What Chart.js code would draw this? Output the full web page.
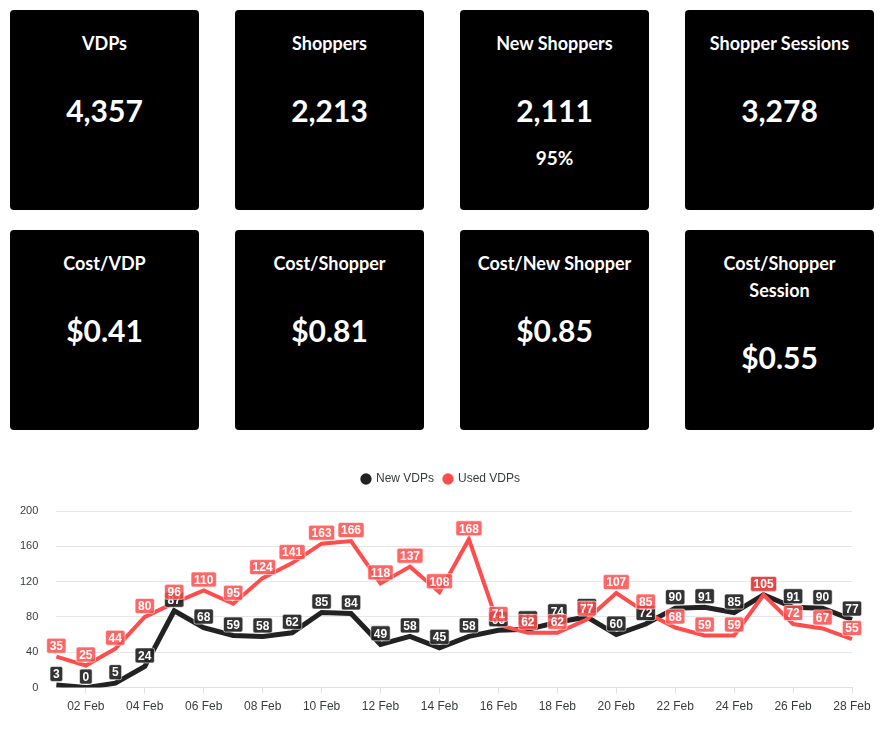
<!DOCTYPE html>
<html>
<head>
<meta charset="utf-8">
<script src="https://cdn.jsdelivr.net/npm/chart.js@4.4.1/dist/chart.umd.min.js"></script>
<style>
	html, body { margin: 0; padding: 0; background: #fff; }
	body { width: 886px; height: 730px; position: relative; overflow: hidden; }
	.cards {
		position: absolute; left: 10px; top: 10px;
		display: grid;
		grid-template-columns: repeat(4, 189px);
		grid-template-rows: 200px 200px;
		column-gap: 36px; row-gap: 20px;
	}
	.card {
		background: #000; color: #fff; border-radius: 4px;
		font-family: 'Lato', 'Noto Sans', sans-serif; font-weight: 700;
		text-align: center; padding: 20px 8px 0; box-sizing: border-box;
	}
	.card .title { font-size: 18px; line-height: 27px; }
	.card .value { font-size: 30px; line-height: 40px; margin-top: 33px; }
	.card .sub { font-size: 19px; line-height: 24px; margin-top: 16px; }
	.chart-box { position: absolute; left: 0; top: 463px; width: 886px; height: 267px; }
</style>
</head>
<body>
<div class="cards" id="cards"></div>
<div class="chart-box"><canvas id="vdpChart"></canvas></div>
<script>
	'use strict';

	// summary cards
	const cardTitles = ['VDPs', 'Shoppers', 'New Shoppers', 'Shopper Sessions',
		'Cost/VDP', 'Cost/Shopper', 'Cost/New Shopper', 'Cost/Shopper Session'];
	const cardValues = ['4,357', '2,213', '2,111', '3,278', '$0.41', '$0.81', '$0.85', '$0.55'];
	const cardSubs = ['', '', '95%', '', '', '', '', ''];

	// daily VDPs, February
	const days = ['01 Feb', '02 Feb', '03 Feb', '04 Feb', '05 Feb', '06 Feb', '07 Feb',
		'08 Feb', '09 Feb', '10 Feb', '11 Feb', '12 Feb', '13 Feb', '14 Feb',
		'15 Feb', '16 Feb', '17 Feb', '18 Feb', '19 Feb', '20 Feb', '21 Feb',
		'22 Feb', '23 Feb', '24 Feb', '25 Feb', '26 Feb', '27 Feb', '28 Feb'];
	const newVdps = [3, 0, 5, 24, 87, 68, 59, 58, 62, 85, 84, 49, 58, 45,
		58, 65, 66, 74, 80, 60, 72, 90, 91, 85, 105, 91, 90, 77];
	const usedVdps = [35, 25, 44, 80, 96, 110, 95, 124, 141, 163, 166, 118, 137, 108,
		168, 71, 62, 62, 77, 107, 85, 68, 59, 59, 105, 72, 67, 55];
	const yTicks = [0, 40, 80, 120, 160, 200];

	const cards = document.getElementById('cards');
	cardTitles.forEach(function(title, i) {
		const card = document.createElement('div');
		card.className = 'card';
		let html = '<div class="title">' + title + '</div><div class="value">' + cardValues[i] + '</div>';
		if (cardSubs[i] !== '') {
			html += '<div class="sub">' + cardSubs[i] + '</div>';
		}
		card.innerHTML = html;
		cards.appendChild(card);
	});

	Chart.defaults.font.family = "Arial, 'Liberation Sans', sans-serif";
	Chart.defaults.color = '#373d3f';

	const colors = ['#222222', '#ff4c4c'];
	const labelFills = ['rgba(34,34,34,0.92)', 'rgba(255,76,76,0.85)'];

	// boxed value labels above each point
	const valueLabels = {
		id: 'valueLabels',
		afterDatasetsDraw(chart) {
			const c = chart.ctx;
			c.save();
			c.font = 'bold 12px Arial, "Liberation Sans", sans-serif';
			c.textAlign = 'center';
			c.textBaseline = 'middle';
			chart.data.datasets.forEach(function(ds, di) {
				const meta = chart.getDatasetMeta(di);
				meta.data.forEach(function(pt, i) {
					const text = String(ds.data[i]);
					const w = c.measureText(text).width + 6;
					const h = 15;
					const cx = pt.x;
					const cy = pt.y - 11;
					c.beginPath();
					c.roundRect(cx - w / 2, cy - h / 2, w, h, 2);
					c.fillStyle = labelFills[di];
					c.fill();
					c.lineWidth = 1;
					c.strokeStyle = 'rgba(255,255,255,0.6)';
					c.stroke();
					c.fillStyle = '#fff';
					c.fillText(text, cx, cy + 1);
				});
			});
			c.restore();
		}
	};

	// extra room under the legend, and nudge it a bit to the right
	const legendGap = {
		id: 'legendGap',
		beforeInit(chart) {
			const fit = chart.legend.fit;
			chart.legend.fit = function() {
				fit.bind(chart.legend)();
				this.height += 16;
			};
		},
		afterLayout(chart) {
			chart.legend.left += 14;
			chart.legend.right += 14;
		}
	};

	new Chart(document.getElementById('vdpChart'), {
		type: 'line',
		data: {
			labels: days,
			datasets: [
				{
					label: 'New VDPs',
					data: newVdps,
					borderColor: colors[0],
					backgroundColor: colors[0],
					borderWidth: 5,
					pointRadius: 0,
					tension: 0,
					order: 2
				},
				{
					label: 'Used VDPs',
					data: usedVdps,
					borderColor: colors[1],
					backgroundColor: colors[1],
					borderWidth: 4,
					pointRadius: 0,
					tension: 0,
					order: 1
				}
			]
		},
		options: {
			responsive: true,
			maintainAspectRatio: false,
			animation: false,
			layout: { padding: { left: 2, right: 34, top: 0, bottom: 10 } },
			plugins: {
				legend: {
					position: 'top',
					labels: {
						usePointStyle: true,
						pointStyle: 'circle',
						boxWidth: 8,
						boxHeight: 8,
						padding: 10,
						font: { size: 12 },
						sort: function(a, b) { return a.datasetIndex - b.datasetIndex; },
						generateLabels: function(chart) {
							const items = Chart.defaults.plugins.legend.labels.generateLabels(chart);
							items.forEach(function(item) {
								item.lineWidth = 0;
								item.strokeStyle = 'transparent';
								item.fillStyle = colors[item.datasetIndex];
							});
							return items;
						}
					}
				},
				tooltip: { enabled: false }
			},
			scales: {
				x: {
					offset: false,
					border: { display: true, color: '#e0e0e0' },
					grid: { drawOnChartArea: false, tickLength: 6, color: '#e0e0e0' },
					ticks: {
						autoSkip: false,
						maxRotation: 0,
						padding: 6,
						font: { size: 12 },
						callback: function(value, index) {
							return index % 2 === 1 ? days[index] : null;
						}
					}
				},
				y: {
					min: yTicks[0],
					max: yTicks[yTicks.length - 1],
					border: { display: false },
					grid: { color: '#e6e6e6', drawTicks: false },
					afterBuildTicks: function(axis) {
						axis.ticks = yTicks.map(function(v) { return { value: v }; });
					},
					ticks: { padding: 18, font: { size: 11 } }
				}
			}
		},
		plugins: [legendGap, valueLabels]
	});
</script>
</body>
</html>
